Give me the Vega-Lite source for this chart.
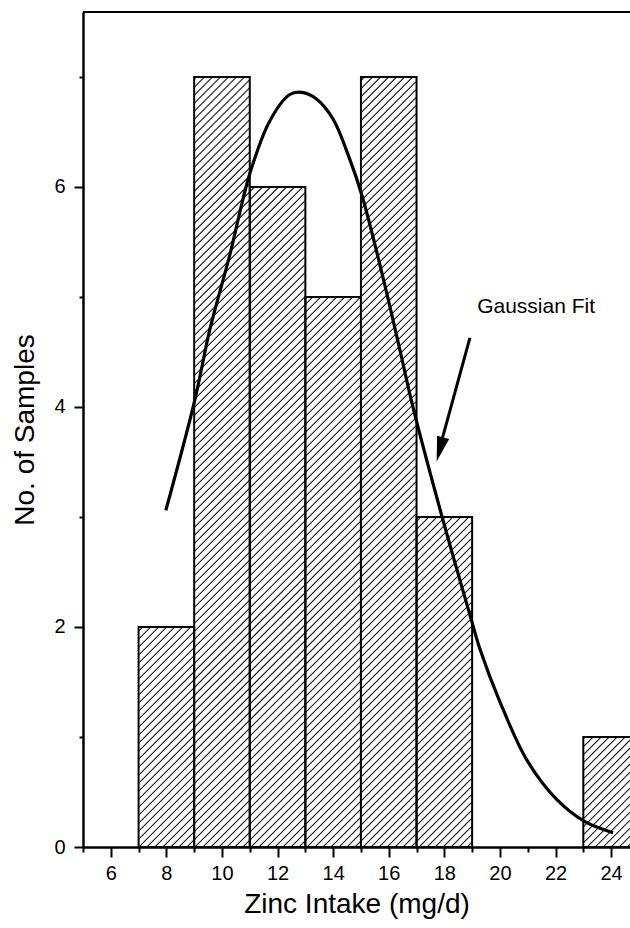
{
  "$schema": "https://vega.github.io/schema/vega-lite/v6.json",
  "width": 547,
  "height": 835,
  "autosize": "none",
  "padding": {"left": 83, "top": 12, "right": 0, "bottom": 81},
  "background": "white",
  "config": {"view": {"stroke": null}, "font": "Liberation Sans"},
  "resolve": {"axis": {"x": "independent", "y": "independent"}},
  "datasets": {
    "bins": [
      {"bin_start": 5, "bin_end": 7, "count": 0},
      {"bin_start": 7, "bin_end": 9, "count": 2},
      {"bin_start": 9, "bin_end": 11, "count": 7},
      {"bin_start": 11, "bin_end": 13, "count": 6},
      {"bin_start": 13, "bin_end": 15, "count": 5},
      {"bin_start": 15, "bin_end": 17, "count": 7},
      {"bin_start": 17, "bin_end": 19, "count": 3},
      {"bin_start": 19, "bin_end": 21, "count": 0},
      {"bin_start": 21, "bin_end": 23, "count": 0},
      {"bin_start": 23, "bin_end": 25, "count": 1}
    ],
    "fit": [
      {"zinc": 7.98, "samples": 3.06},
      {"zinc": 9.02, "samples": 4.06},
      {"zinc": 9.56, "samples": 4.7},
      {"zinc": 10.28, "samples": 5.38},
      {"zinc": 11.0, "samples": 6.12},
      {"zinc": 11.72, "samples": 6.6},
      {"zinc": 12.44, "samples": 6.84},
      {"zinc": 12.88, "samples": 6.86},
      {"zinc": 13.4, "samples": 6.8},
      {"zinc": 13.99, "samples": 6.62},
      {"zinc": 14.6, "samples": 6.25},
      {"zinc": 15.04, "samples": 5.92},
      {"zinc": 15.79, "samples": 5.18},
      {"zinc": 16.4, "samples": 4.52},
      {"zinc": 16.87, "samples": 4.0},
      {"zinc": 17.92, "samples": 3.0},
      {"zinc": 19.0, "samples": 2.04},
      {"zinc": 19.28, "samples": 1.8},
      {"zinc": 20.0, "samples": 1.32},
      {"zinc": 20.97, "samples": 0.79},
      {"zinc": 22.05, "samples": 0.43},
      {"zinc": 23.06, "samples": 0.23},
      {"zinc": 24.07, "samples": 0.13}
    ]
  },
  "layer": [
    {
      "data": {"name": "bins"},
      "transform": [{"filter": "datum.count > 0"}],
      "mark": {"type": "rect", "clip": true, "fill": "white", "stroke": null},
      "encoding": {
        "x": {
          "field": "bin_start", "type": "quantitative",
          "scale": {"domain": [5, 24.68], "nice": false, "zero": false},
          "axis": {
            "orient": "bottom",
            "title": "Zinc Intake (mg/d)",
            "values": [5, 6, 7, 8, 9, 10, 11, 12, 13, 14, 15, 16, 17, 18, 19, 20, 21, 22, 23, 24],
            "labelExpr": "datum.value % 2 === 0 ? datum.label : ''",
            "tickSize": {"condition": {"test": "datum.value % 2 === 0", "value": 10}, "value": 5},
            "tickWidth": 2, "tickColor": "black",
            "domainColor": "black", "domainWidth": 2.5,
            "labelFontSize": 20, "labelColor": "black", "labelPadding": 6, "labelFont": "Liberation Sans",
            "labelFlush": false, "labelOverlap": false,
            "titleFont": "Liberation Sans", "titleFontSize": 28, "titleFontWeight": "normal", "titleColor": "black", "titlePadding": 7,
            "grid": false, "zindex": 1
          }
        },
        "x2": {"field": "bin_end"},
        "y": {
          "field": "count", "type": "quantitative",
          "scale": {"domain": [0, 7.59], "nice": false},
          "axis": {
            "orient": "left",
            "title": "No. of Samples",
            "values": [0, 2, 4, 6],
            "tickSize": 9,
            "tickWidth": 2, "tickColor": "black",
            "domainColor": "black", "domainWidth": 2.5,
            "labelFontSize": 20, "labelColor": "black", "labelPadding": 9, "labelFont": "Liberation Sans",
            "labelFlush": false, "labelOverlap": false,
            "titleFont": "Liberation Sans", "titleFontSize": 28, "titleFontWeight": "normal", "titleColor": "black", "titlePadding": 14,
            "grid": false, "zindex": 1
          }
        },
        "y2": {"datum": 0}
      }
    },
    {
      "data": {"values": [{}]},
      "mark": {"type": "rule", "clip": true, "strokeWidth": 1000, "strokeDash": [1.1, 4.56], "color": "#1a1a1a"},
      "encoding": {
        "x": {"datum": -0.435, "type": "quantitative", "axis": null},
        "y": {"datum": 7.657, "type": "quantitative", "axis": null},
        "x2": {"datum": 30.095},
        "y2": {"datum": -0.057}
      }
    },
    {
      "data": {"name": "bins"},
      "mark": {"type": "rect", "clip": true, "fill": "white", "stroke": "white", "strokeWidth": 1.2},
      "encoding": {
        "x": {"field": "bin_start", "type": "quantitative", "axis": null},
        "x2": {"field": "bin_end"},
        "y": {
          "field": "count", "type": "quantitative",
          "axis": {
            "orient": "left", "title": null, "values": [1, 3, 5, 7],
            "labels": false, "domain": false, "grid": false,
            "tickSize": 4, "tickWidth": 2, "tickColor": "black", "zindex": 1
          }
        },
        "y2": {"datum": 8}
      }
    },
    {
      "data": {"name": "bins"},
      "transform": [{"filter": "datum.count > 0"}],
      "mark": {"type": "rect", "clip": true, "filled": false, "color": "black", "strokeWidth": 2},
      "encoding": {
        "x": {"field": "bin_start", "type": "quantitative", "axis": null},
        "x2": {"field": "bin_end"},
        "y": {"field": "count", "type": "quantitative", "axis": null},
        "y2": {"datum": 0}
      }
    },
    {
      "data": {"name": "fit"},
      "mark": {"type": "line", "clip": true, "interpolate": "catmull-rom", "strokeWidth": 3.2, "color": "black"},
      "encoding": {
        "x": {"field": "zinc", "type": "quantitative", "axis": null},
        "y": {"field": "samples", "type": "quantitative", "axis": null}
      }
    },
    {
      "data": {"values": [{}]},
      "mark": {"type": "rule", "strokeWidth": 3, "color": "black"},
      "encoding": {
        "x": {"datum": 18.92, "type": "quantitative", "axis": null},
        "y": {"datum": 4.627, "type": "quantitative", "axis": null},
        "x2": {"datum": 17.86},
        "y2": {"datum": 3.65}
      }
    },
    {
      "data": {"values": [{}]},
      "mark": {"type": "point", "shape": "M0,1L-0.5,-1L0.5,-1Z", "filled": true, "color": "black", "opacity": 1, "size": 625, "angle": 15, "strokeWidth": 0},
      "encoding": {
        "x": {"datum": 17.84, "type": "quantitative", "axis": null},
        "y": {"datum": 3.613, "type": "quantitative", "axis": null}
      }
    },
    {
      "data": {"values": [{"label": "Gaussian Fit"}]},
      "mark": {"type": "text", "align": "left", "baseline": "middle", "fontSize": 21, "font": "Liberation Sans", "color": "black"},
      "encoding": {
        "x": {"datum": 19.18, "type": "quantitative", "axis": null},
        "y": {"datum": 4.91, "type": "quantitative", "axis": null},
        "text": {"field": "label"}
      }
    },
    {
      "data": {"values": [{}]},
      "mark": {"type": "rule", "strokeWidth": 2, "color": "black"},
      "encoding": {
        "y": {"datum": 7.59, "type": "quantitative", "axis": null}
      }
    }
  ]
}
